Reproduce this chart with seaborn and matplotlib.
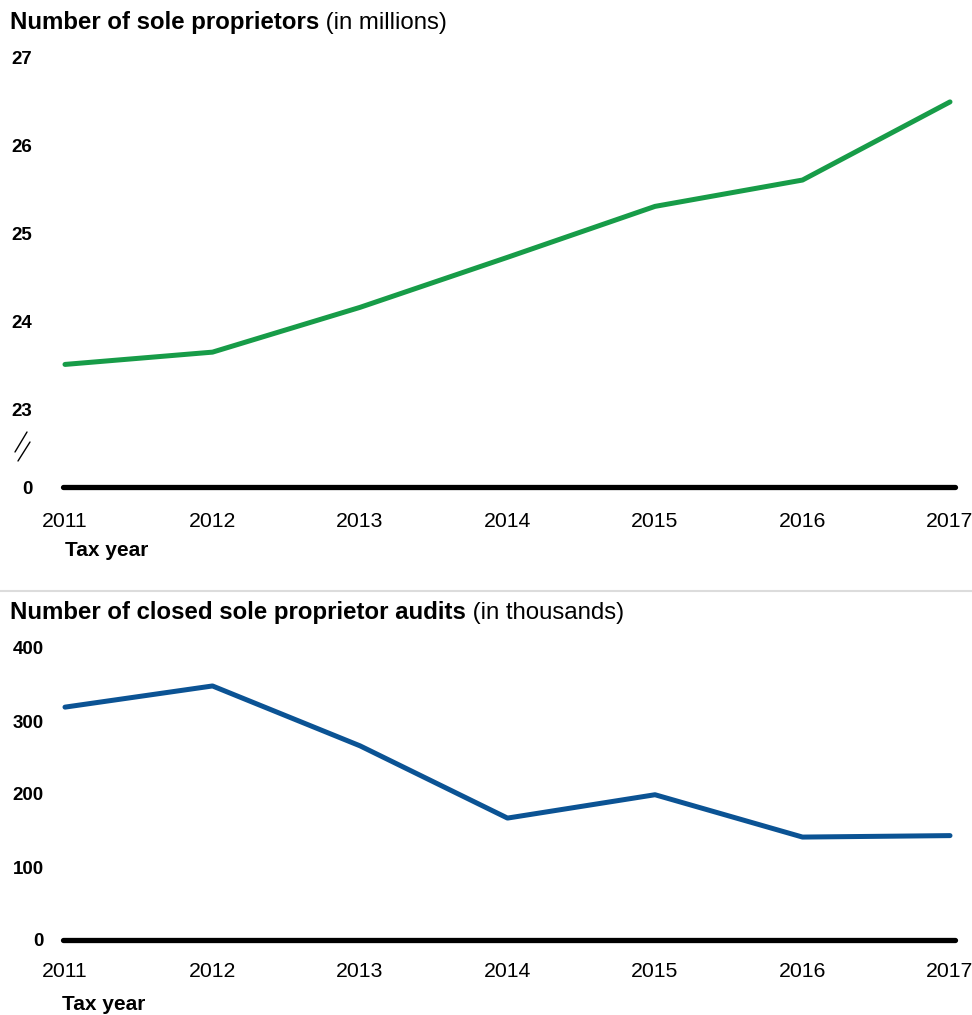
import matplotlib
matplotlib.use("Agg")
import matplotlib.pyplot as plt
import seaborn as sns
import pandas as pd
from matplotlib.lines import Line2D

years = [2011, 2012, 2013, 2014, 2015, 2016, 2017]
sole_proprietors_millions = [23.51, 23.65, 24.16, 24.73, 25.31, 25.61, 26.50]
closed_audits_thousands = [319, 348, 266, 167, 199, 141, 143]

top_ticks = [23, 24, 25, 26, 27]
bottom_ticks = [0, 100, 200, 300, 400]

GREEN = "#179c48"
BLUE = "#0b5394"

sns.set_style("white")
plt.rcParams["font.family"] = ["Liberation Sans", "DejaVu Sans"]
plt.rcParams["text.color"] = "black"
plt.rcParams["xtick.color"] = "black"
plt.rcParams["ytick.color"] = "black"
plt.rcParams["xtick.labelcolor"] = "black"
plt.rcParams["ytick.labelcolor"] = "black"

W, H = 972, 1015
fig = plt.figure(figsize=(W / 100, H / 100), dpi=100)

def frac_box(left, top, right, bottom):
    return [left / W, 1 - bottom / H, (right - left) / W, (bottom - top) / H]

x_lo = 2011 - 2 / 147.5
x_hi = 2017 + 5 / 147.5

TITLE_FS = 17.3
XT_FS = 15.3
YT_FS = 13.5
XL_FS = 15

# ---------- Top panel ----------
ax1 = fig.add_axes(frac_box(63, 58, 955, 487))
zero_pos = 22.114  # position of the broken-axis "0" baseline
df1 = pd.DataFrame({"year": years, "value": sole_proprietors_millions})
sns.lineplot(data=df1, x="year", y="value", ax=ax1, color=GREEN, lw=3.6,
             solid_capstyle="round", clip_on=False)
ax1.axhline(zero_pos, color="black", lw=3.8, clip_on=False)
ax1.set_ylim(zero_pos, 27)
ax1.set_xlim(x_lo, x_hi)
ax1.set_yticks([zero_pos] + top_ticks)
ax1.set_yticklabels(["0"] + [str(t) for t in top_ticks], fontweight="bold", fontsize=YT_FS)
ax1.set_xticks(years)
ax1.set_xticklabels([str(y) for y in years], fontsize=XT_FS)
ax1.tick_params(axis="y", length=0, pad=22)
ax1.tick_params(axis="x", length=0, pad=18)
ax1.set_xlabel("")
ax1.set_ylabel("")
sns.despine(ax=ax1, left=True, bottom=True)

# break marks
for (x0, y0, x1, y1) in [(27, 432, 15, 452), (30, 442, 18, 461)]:
    fig.add_artist(Line2D([x0 / W, x1 / W], [1 - y0 / H, 1 - y1 / H],
                          transform=fig.transFigure, color="black", lw=1.0))

t1 = fig.text(10 / W, 1 - 23 / H, "Number of sole proprietors", fontsize=TITLE_FS,
              fontweight="bold", va="center", ha="left")
ax1.annotate(" (in millions)", xy=(1, 0), xycoords=t1, va="bottom", ha="left",
             fontsize=TITLE_FS, annotation_clip=False)
fig.text(65 / W, 1 - 551 / H, "Tax year", fontsize=XL_FS, fontweight="bold",
         va="center", ha="left")

# separator
fig.add_artist(Line2D([0, 1], [1 - 591 / H, 1 - 591 / H], transform=fig.transFigure,
                      color="#dcdcdc", lw=1.5))

# ---------- Bottom panel ----------
ax2 = fig.add_axes(frac_box(63, 648, 955, 940))
df2 = pd.DataFrame({"year": years, "value": closed_audits_thousands})
sns.lineplot(data=df2, x="year", y="value", ax=ax2, color=BLUE, lw=3.6,
             solid_capstyle="round", clip_on=False)
ax2.axhline(0, color="black", lw=3.8, clip_on=False)
ax2.set_ylim(0, 400)
ax2.set_xlim(x_lo, x_hi)
ax2.set_yticks(bottom_ticks)
ax2.set_yticklabels([str(t) for t in bottom_ticks], fontweight="bold", fontsize=YT_FS)
ax2.set_xticks(years)
ax2.set_xticklabels([str(y) for y in years], fontsize=XT_FS)
ax2.tick_params(axis="y", length=0, pad=14)
ax2.tick_params(axis="x", length=0, pad=16)
ax2.set_xlabel("")
ax2.set_ylabel("")
sns.despine(ax=ax2, left=True, bottom=True)

t2 = fig.text(10 / W, 1 - 613 / H, "Number of closed sole proprietor audits", fontsize=TITLE_FS,
              fontweight="bold", va="center", ha="left")
ax2.annotate(" (in thousands)", xy=(1, 0), xycoords=t2, va="bottom", ha="left",
             fontsize=TITLE_FS, annotation_clip=False)
fig.text(62 / W, 1 - 1004 / H, "Tax year", fontsize=XL_FS, fontweight="bold",
         va="center", ha="left")

fig.savefig("out.png", dpi=100)
